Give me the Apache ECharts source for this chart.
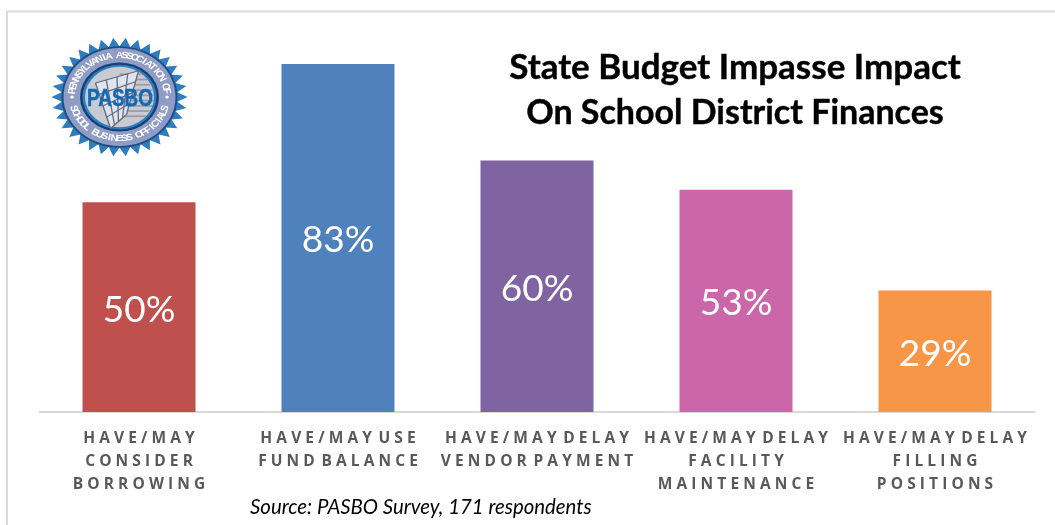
<!DOCTYPE html>
<html>
<head>
<meta charset="utf-8">
<style>html,body{margin:0;padding:0;background:#fff}#chart{width:1055px;height:525px}</style>
<script src="https://cdn.jsdelivr.net/npm/echarts@6/dist/echarts.min.js"></script>
</head>
<body>
<div id="chart"></div>
<script>
const categories = [
  'HAVE/MAY\nCONSIDER\nBORROWING',
  'HAVE/MAY USE\nFUND BALANCE',
  'HAVE/MAY DELAY\nVENDOR PAYMENT',
  'HAVE/MAY DELAY\nFACILITY\nMAINTENANCE',
  'HAVE/MAY DELAY\nFILLING\nPOSITIONS'
];
const percentages = [50, 83, 60, 53, 29];
const barColors = ['#C0504D', '#4F81BD', '#8064A2', '#CC66AA', '#F79646'];
const titleFirstLine = 'State Budget Impasse Impact';
const titleSecondLine = 'On School District Finances';
const sourceNote = 'Source: PASBO Survey, 171 respondents';
const sealTop = 'PENNSYLVANIA ASSOCIATION OF';
const sealBottom = 'SCHOOL BUSINESS OFFICIALS';
const sealName = 'PASBO';

const FONT = 'Lato, Carlito, "Open Sans", sans-serif';
// Tracked-out capitals: a thin gap between letters, a single one beside each word break
const spaced = s => s.split('\n').map(l => l.split(' ')
  .map(w => w.split('').join('\u2009\u200a')).join(' \u2009')).join('\n');

// Association seal, drawn around the origin: serrated edge, rings, curved lettering, net emblem
function buildSeal() {
  const parts = [];
  const teeth = 34, pts = [];
  for (let i = 0; i < teeth * 2; i++) {
    const r = i % 2 ? 58 : 68;
    const a = (i / (teeth * 2)) * Math.PI * 2;
    pts.push([r * Math.cos(a), r * Math.sin(a)]);
  }
  parts.push({ type: 'polygon', shape: { points: pts }, style: { fill: '#2E7DBE' } });
  const disc = (r, fill) => parts.push({ type: 'circle', shape: { cx: 0, cy: 0, r }, style: { fill } });
  disc(58, '#1F4E86');
  disc(56, '#8E9CC6');
  disc(39.5, '#173F78');
  disc(37, '#2C7FBF');
  disc(34.5, '#C9CBD2');

  // Stripes behind the net
  for (let y = -26; y <= 26; y += 6) {
    const half = Math.sqrt(34 * 34 - y * y);
    parts.push({
      type: 'line',
      shape: { x1: 0, y1: y, x2: half, y2: y },
      style: { stroke: '#9A9CA6', lineWidth: 2 }
    });
  }
  // Net panel
  const tl = [-24, -16], tr = [19, -30], br = [7, 20], bl = [-9, 36];
  parts.push({ type: 'polygon', shape: { points: [tl, tr, br, bl] }, style: { fill: '#DDE3F0' } });
  for (let i = 0; i <= 4; i++) {
    const t = i / 4;
    const mix = (a, b) => [a[0] + (b[0] - a[0]) * t, a[1] + (b[1] - a[1]) * t];
    const [ax, ay] = mix(tl, tr), [bx, by] = mix(bl, br), [cx, cy] = mix(tl, bl), [dx, dy] = mix(tr, br);
    parts.push({ type: 'line', shape: { x1: ax, y1: ay, x2: bx, y2: by }, style: { stroke: '#666B7C', lineWidth: 1.3 } });
    parts.push({ type: 'line', shape: { x1: cx, y1: cy, x2: dx, y2: dy }, style: { stroke: '#666B7C', lineWidth: 1.3 } });
  }
  parts.push({
    type: 'text', x: 0.5, y: 2.5, scaleX: 0.7,
    style: {
      text: sealName, fill: '#1568B4', stroke: '#1568B4', lineWidth: 0.5,
      font: 'bold 27px "Liberation Sans Narrow", "Liberation Sans", sans-serif',
      textAlign: 'center', textVerticalAlign: 'middle'
    }
  });

  // Curved lettering on the band
  const curved = (text, from, to, top) => {
    const n = text.length;
    text.split('').forEach((ch, i) => {
      const deg = from + (to - from) * (i / (n - 1));
      const a = deg * Math.PI / 180;
      parts.push({
        type: 'text',
        x: 47.5 * Math.cos(a),
        y: -47.5 * Math.sin(a),
        rotation: top ? a - Math.PI / 2 : a + Math.PI / 2,
        style: {
          text: ch, fill: '#FFFFFF', font: 'bold 10.5px "Liberation Sans Narrow", "Liberation Sans", sans-serif',
          textAlign: 'center', textVerticalAlign: 'middle'
        }
      });
    });
  };
  curved(sealTop, 172, 8, true);
  curved(sealBottom, 196, 344, false);
  [-47.5, 47.5].forEach(dx => parts.push({
    type: 'circle', shape: { cx: dx, cy: 0, r: 1.8 }, style: { fill: '#FFFFFF' }
  }));
  return parts;
}

const titleStyle = size => ({
  fill: '#000000', stroke: '#000000', lineWidth: 0.4, font: 'bold ' + size + 'px ' + FONT,
  textAlign: 'center', textVerticalAlign: 'middle'
});

const chart = echarts.init(document.getElementById('chart'), null, { renderer: 'canvas' });
chart.setOption({
  animation: false,
  backgroundColor: '#FFFFFF',
  grid: { left: 39.5, right: 20.5, top: 64, bottom: 113, containLabel: false },
  xAxis: {
    type: 'category',
    data: categories,
    axisTick: { show: false },
    axisLine: { lineStyle: { color: '#D9D9D9', width: 2 } },
    axisLabel: {
      interval: 0,
      margin: 15,
      color: '#595959',
      fontFamily: '"Open Sans", Lato, sans-serif',
      fontWeight: 'bold',
      fontSize: 15.5,
      lineHeight: 23,
      formatter: v => spaced(v)
    }
  },
  yAxis: { type: 'value', min: 0, max: 83, show: false, splitLine: { show: false } },
  series: [{
    type: 'bar',
    barWidth: 113,
    data: percentages.map((v, i) => ({ value: v, itemStyle: { color: barColors[i] } })),
    label: {
      show: true,
      position: 'inside',
      offset: [0, 2.5],
      formatter: '{c}%',
      color: '#FFFFFF',
      fontFamily: FONT,
      fontSize: 37
    }
  }],
  graphic: [
    { type: 'line', shape: { x1: 6.5, y1: 11.5, x2: 1055, y2: 11.5 }, style: { stroke: '#D9D9D9', lineWidth: 2 } },
    { type: 'line', shape: { x1: 7, y1: 11, x2: 7, y2: 525 }, style: { stroke: '#D9D9D9', lineWidth: 2 } },
    { type: 'text', x: 735, y: 68, style: { text: titleFirstLine, ...titleStyle(35) } },
    { type: 'text', x: 735, y: 113, style: { text: titleSecondLine, ...titleStyle(34) } },
    {
      type: 'text', x: 250, y: 507,
      style: {
        text: sourceNote, fill: '#000000', font: 'italic 20.4px ' + FONT,
        textAlign: 'left', textVerticalAlign: 'middle'
      }
    },
    { type: 'group', x: 119.5, y: 97, scaleY: 0.875, children: buildSeal() }
  ]
});
</script>
</body>
</html>
